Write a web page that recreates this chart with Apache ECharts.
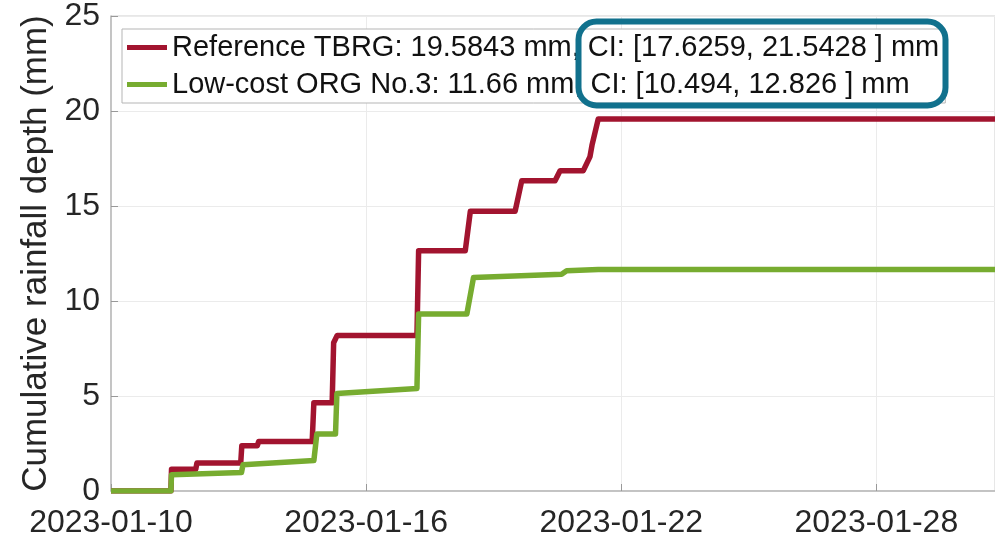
<!DOCTYPE html>
<html>
<head>
<meta charset="utf-8">
<script src="https://cdn.jsdelivr.net/npm/echarts@6/dist/echarts.min.js"></script>
<style>
  html, body { margin: 0; padding: 0; background: #fff; }
  #chart { width: 995px; height: 539px; }
</style>
</head>
<body>
<div id="chart"></div>
<script>
// x tick labels every 6 days from the start date
const tickLabels = ['2023-01-10', '2023-01-16', '2023-01-22', '2023-01-28']

const refName = 'Reference TBRG: 19.5843 mm, CI: [17.6259, 21.5428 ] mm'
const orgName = 'Low-cost ORG No.3: 11.66 mm, CI: [10.494, 12.826 ] mm'

// reference tipping-bucket gauge, cumulative depth (mm)
const refTimes = [
  '2023-01-10 00:00', '2023-01-11 09:48', '2023-01-11 10:10', '2023-01-11 23:50',
  '2023-01-12 00:30', '2023-01-13 01:13', '2023-01-13 01:50', '2023-01-13 10:35',
  '2023-01-13 11:20', '2023-01-14 17:33', '2023-01-14 18:30', '2023-01-15 04:50',
  '2023-01-15 05:40', '2023-01-15 07:40', '2023-01-17 04:41', '2023-01-17 05:38',
  '2023-01-18 07:57', '2023-01-18 10:50', '2023-01-19 12:07', '2023-01-19 15:50',
  '2023-01-20 10:38', '2023-01-20 13:28', '2023-01-21 02:35', '2023-01-21 06:22',
  '2023-01-21 07:30', '2023-01-21 11:02', '2023-01-30 19:00',
]
const refDepth = [
  0, 0, 1.15, 1.15,
  1.47, 1.47, 2.38, 2.38,
  2.6, 2.6, 4.64, 4.64,
  7.8, 8.19, 8.19, 12.64,
  12.64, 14.73, 14.73, 16.33,
  16.33, 16.86, 16.86, 17.6,
  18.2, 19.58, 19.58,
]

// low-cost optical rain gauge No.3, cumulative depth (mm)
const orgTimes = [
  '2023-01-10 00:00', '2023-01-11 09:48', '2023-01-11 10:10', '2023-01-13 01:40',
  '2023-01-13 02:30', '2023-01-14 18:30', '2023-01-14 19:28', '2023-01-14 20:10',
  '2023-01-15 06:43', '2023-01-15 07:30', '2023-01-17 04:41', '2023-01-17 05:38',
  '2023-01-18 08:51', '2023-01-18 12:37', '2023-01-20 14:21', '2023-01-20 17:11',
  '2023-01-21 11:02', '2023-01-30 19:00',
]
const orgDepth = [
  0, 0, 0.86, 0.98,
  1.38, 1.6, 2.4, 3.0,
  3.0, 5.13, 5.4, 9.32,
  9.32, 11.24, 11.41, 11.59,
  11.66, 11.66,
]

const startMs = Date.UTC(2023, 0, 10)
const DAY = 86400000

// days since 2023-01-10 00:00
function dayOffset(s) {
  const [d, t] = s.split(' ')
  const [y, m, dd] = d.split('-').map(Number)
  const [hh, mm] = t.split(':').map(Number)
  return (Date.UTC(y, m - 1, dd, hh, mm) - startMs) / DAY
}

const pairs = (times, vals) => times.map((t, i) => [dayOffset(t), vals[i]])

const textColor = '#262626'
const axisGray = '#b8b8b8'
const font = "'Liberation Sans', Arial, Helvetica, sans-serif"

const chart = echarts.init(document.getElementById('chart'))

chart.setOption({
  backgroundColor: '#fff',
  animation: false,
  grid: {
    left: 111,
    right: -2,
    top: 16,
    bottom: 44,
    show: true,
    borderColor: '#cfcfcf',
    borderWidth: 1,
  },
  legend: {
    orient: 'vertical',
    left: 122,
    top: 29,
    padding: [4, 6, 4, 5],
    itemGap: 8,
    itemWidth: 40,
    itemHeight: 5,
    icon: 'rect',
    backgroundColor: '#fff',
    borderColor: '#b5b5b5',
    borderWidth: 1,
    borderRadius: 0,
    textStyle: { color: '#111', fontSize: 29, fontFamily: font },
    data: [refName, orgName],
  },
  xAxis: {
    type: 'value',
    min: 0,
    max: 20.79,
    interval: 6,
    axisLine: { show: true, lineStyle: { color: axisGray, width: 1.5 } },
    axisTick: { show: true, inside: true, length: 7, lineStyle: { color: '#999' } },
    axisLabel: {
      color: textColor,
      fontSize: 32,
      fontFamily: font,
      margin: 16,
      showMaxLabel: false,
      formatter: (v) => {
        const i = Math.round(v / 6)
        return Math.abs(v - i * 6) < 1e-6 ? (tickLabels[i] || '') : ''
      },
    },
    splitLine: { show: true, lineStyle: { color: '#ebebeb', width: 1 } },
  },
  yAxis: {
    type: 'value',
    min: 0,
    max: 25,
    interval: 5,
    name: 'Cumulative rainfall depth (mm)',
    nameLocation: 'middle',
    nameGap: 54,
    nameTextStyle: { color: textColor, fontSize: 35, fontFamily: font },
    axisLine: { show: true, lineStyle: { color: axisGray, width: 1.5 } },
    axisTick: { show: true, inside: true, length: 7, lineStyle: { color: '#999' } },
    axisLabel: { color: textColor, fontSize: 32, fontFamily: font, margin: 11 },
    splitLine: { show: true, lineStyle: { color: '#ebebeb', width: 1 } },
  },
  series: [
    {
      name: refName,
      type: 'line',
      data: pairs(refTimes, refDepth),
      showSymbol: false,
      symbol: 'none',
      color: '#A2142F',
      lineStyle: { color: '#A2142F', width: 5.5, join: 'round' },
      z: 3,
    },
    {
      name: orgName,
      type: 'line',
      data: pairs(orgTimes, orgDepth),
      showSymbol: false,
      symbol: 'none',
      color: '#77AC30',
      lineStyle: { color: '#77AC30', width: 5.5, join: 'round' },
      z: 4,
    },
  ],
  graphic: [
    {
      type: 'rect',
      z: 100,
      shape: { x: 578.5, y: 21.5, width: 367, height: 84, r: 18 },
      style: { fill: 'none', stroke: '#11718D', lineWidth: 6 },
    },
  ],
})
</script>
</body>
</html>
